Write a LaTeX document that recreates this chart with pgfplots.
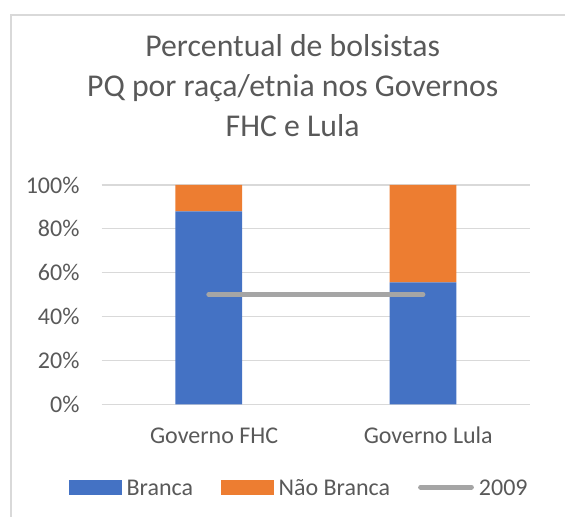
\documentclass[border=0pt]{standalone}
\usepackage{fontspec}
\setmainfont{Carlito}
\usepackage{pgfplots}
\pgfplotsset{compat=1.18}
\definecolor{cblue}{HTML}{4472C4}
\definecolor{corange}{HTML}{ED7D31}
\definecolor{cgray}{HTML}{A5A5A5}
\definecolor{gridgray}{HTML}{D9D9D9}
\definecolor{txt}{HTML}{595959}
\begin{document}
\begin{tikzpicture}
\useasboundingbox (0,0) rectangle (423.75pt,-387.75pt);
% chart frame
\draw[gridgray, line width=1.5pt] (8.25pt,-387.75pt) -- (8.25pt,-10.9pt) -- (423.75pt,-10.9pt);
% title
\node[anchor=base, text=txt, font=\fontsize{23.8pt}{28pt}\selectfont] at (219.5pt,-42.5pt) {Percentual de bolsistas};
\node[anchor=base, text=txt, font=\fontsize{23.8pt}{28pt}\selectfont] at (219.5pt,-72.5pt) {PQ por raça/etnia nos Governos};
\node[anchor=base, text=txt, font=\fontsize{23.8pt}{28pt}\selectfont] at (219.5pt,-102.5pt) {FHC e Lula};
\pgfplotsset{
  common/.style={
    at={(76.3pt,-303.2pt)}, anchor=south west,
    width=321.2pt, height=164.5pt, scale only axis,
    xmin=-0.5, xmax=1.5, ymin=0, ymax=100,
  }
}
\begin{axis}[common,
  ybar stacked, bar width=50pt,
  axis lines*=left, axis line style={draw=none}, tick style={draw=none},
  ymajorgrids, major grid style={color=gridgray, line width=0.9pt},
  ytick={0,20,40,60,80,100},
  yticklabel={\pgfmathprintnumber{\tick}\%},
  xtick={0,1}, xticklabels={Governo FHC, Governo Lula},
  /pgf/number format/assume math mode=true,
  tick label style={font=\fontsize{18pt}{21pt}\selectfont, text=txt},
  yticklabel style={anchor=east, inner sep=0pt, xshift=-16.5pt},
  xticklabel style={anchor=base, inner sep=0pt, yshift=-29.3pt, xshift=4pt},
]
\addplot[fill=cblue, draw=none, bar shift=0pt] coordinates {(0,88) (1,55.6)};
\addplot[fill=corange, draw=none, bar shift=0pt] coordinates {(0,12) (1,44.4)};
\end{axis}
\begin{axis}[common,
  hide axis,
  legend columns=3,
  legend style={at={(0.459,-0.386)}, anchor=center, draw=none, fill=none,
    font=\fontsize{18pt}{21pt}\selectfont, text=txt,
    column sep=3.75pt, /tikz/every even column/.append style={column sep=21pt},
    nodes={inner sep=0pt}},
]
\addlegendimage{legend image code/.code={\fill[cblue] (0pt,-3.75pt) rectangle (39pt,6.55pt);}}
\addlegendentry{Branca}
\addlegendimage{legend image code/.code={\fill[corange] (0pt,-3.75pt) rectangle (39pt,6.55pt);}}
\addlegendentry{Não Branca}
\addplot[cgray, line width=3.75pt, line cap=round, mark=none,
  legend image code/.code={\draw[cgray, line width=3.75pt, line cap=round] (1.9pt,1.4pt) -- (40pt,1.4pt);}]
  coordinates {(0,50) (1,50)};
\addlegendentry{2009}
\end{axis}
\end{tikzpicture}
\end{document}
